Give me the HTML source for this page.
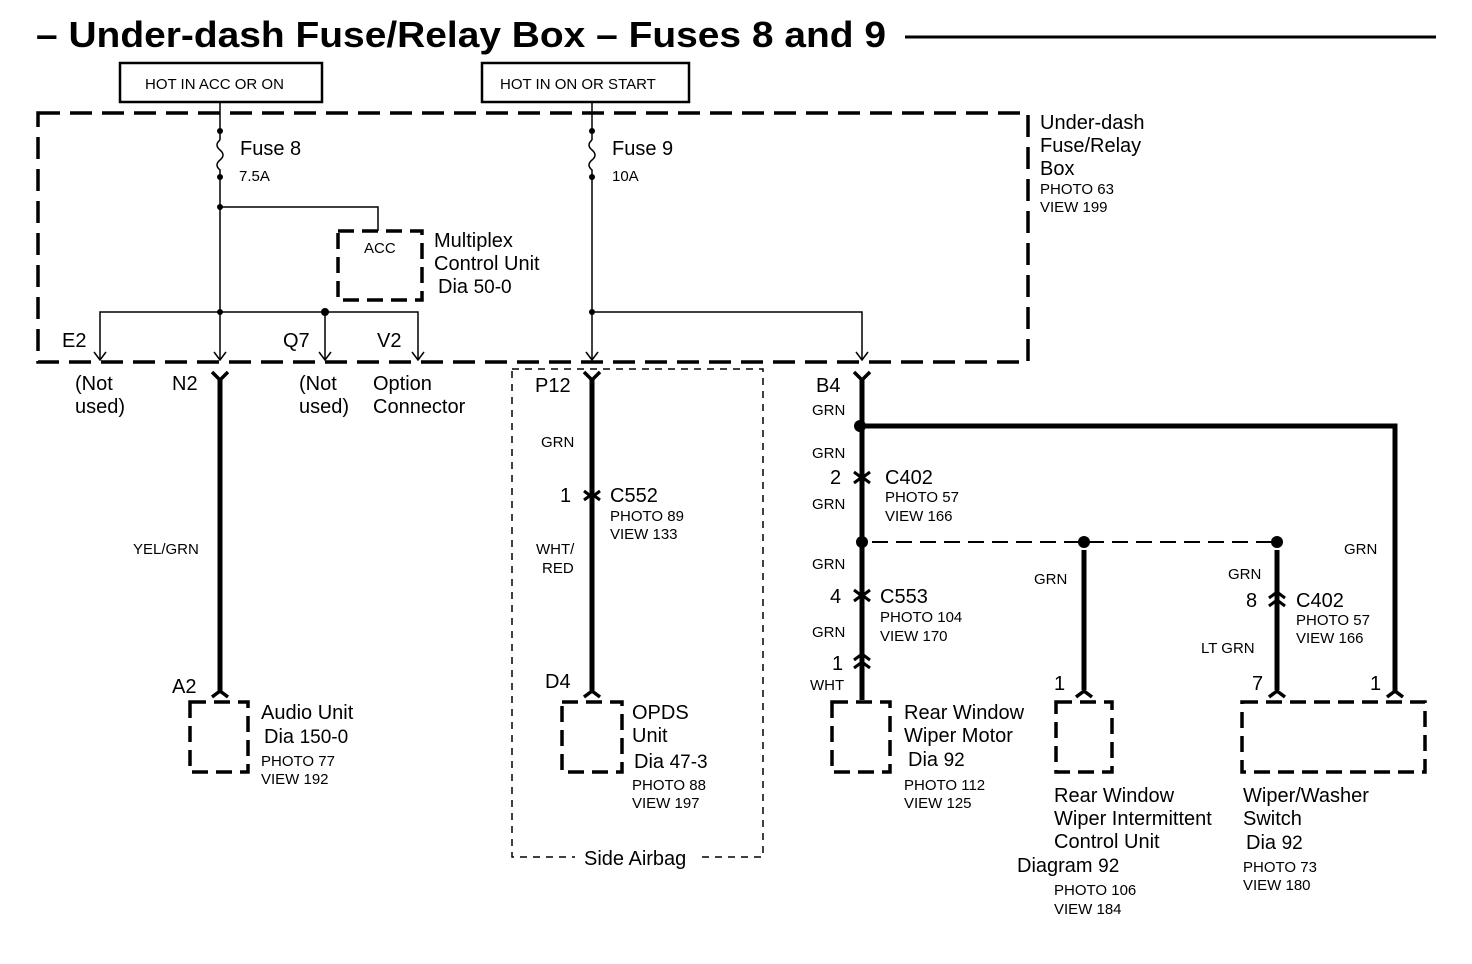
<!DOCTYPE html>
<html><head><style>body{margin:0;background:#fff}svg{display:block}text{font-family:"Liberation Sans",Arial,sans-serif;fill:#000}</style></head><body>
<svg width="1472" height="964" viewBox="0 0 1472 964" xmlns="http://www.w3.org/2000/svg">
<text x="36" y="47" font-size="36" font-weight="bold" textLength="850" lengthAdjust="spacingAndGlyphs">– Under-dash Fuse/Relay Box – Fuses 8 and 9</text>
<line x1="905" y1="37" x2="1436" y2="37" stroke="#000" stroke-width="3"/>
<g fill="none" stroke="#000">
<rect x="120" y="63" width="202" height="39" stroke-width="2.5"/>
<rect x="482" y="63" width="207" height="39" stroke-width="2.5"/>
<rect x="38" y="113" width="990" height="249" stroke-width="3.5" stroke-dasharray="22,10"/>
<rect x="338" y="231" width="84" height="69" stroke-width="3.5" stroke-dasharray="16,8"/>
<rect x="512" y="369" width="251" height="488" stroke-width="1.5" stroke-dasharray="7,6"/>
<g stroke-width="1.5">
<path d="M220 102V140M220 177V360M220 207H378V231M100 360V312H418V360M325 312V360"/>
<path d="M220 140q-6 5 0 10q6 5 0 10q-6 5 0 10v7"/>
<path d="M592 102V140M592 177V360M592 312H862V360"/>
<path d="M592 140q-6 5 0 10q6 5 0 10q-6 5 0 10v7"/>
<path d="M94 352l6 8l6-8M214 352l6 8l6-8M319 352l6 8l6-8M412 352l6 8l6-8M586 352l6 8l6-8M856 352l6 8l6-8"/>
</g>
<g stroke-width="5">
<path d="M220 378V692M592 378V692M862 378V700M862 426H1395V692M1084 550V690M1277 550V690"/>
<path d="M212 372l8 8l8-8M584 372l8 8l8-8M854 372l8 8l8-8" stroke-width="3.5"/>
<path d="M212 697l8-6l8 6M584 697l8-6l8 6M1076 697l8-6l8 6M1269 697l8-6l8 6M1387 697l8-6l8 6" stroke-width="3.5"/>
<path d="M584 491l8 6l8-6M584 500l8-6l8 6M854 472l8 6l8-6M854 483l8-6l8 6M854 590l8 6l8-6M854 601l8-6l8 6M854 660l8-6l8 6M854 668l8-6l8 6M1269 598l8-6l8 6M1269 606l8-6l8 6" stroke-width="3"/>
</g>
<path d="M872 542H1277" stroke-width="2" stroke-dasharray="16,8"/>
<g stroke-width="3.5" stroke-dasharray="16,8">
<rect x="190" y="702" width="58" height="70"/>
<rect x="562" y="702" width="60" height="70"/>
<rect x="832" y="702" width="58" height="70"/>
<rect x="1056" y="702" width="56" height="70"/>
<rect x="1242" y="702" width="183" height="70"/>
</g>
</g>
<rect x="575" y="848" width="122" height="20" fill="#fff"/>
<g fill="#000">
<circle cx="220" cy="131" r="3"/><circle cx="220" cy="177" r="3"/><circle cx="220" cy="207" r="3"/><circle cx="220" cy="312" r="3"/><circle cx="325" cy="312" r="4"/>
<circle cx="592" cy="131" r="3"/><circle cx="592" cy="177" r="3"/><circle cx="592" cy="312" r="3"/>
<circle cx="860" cy="426" r="6"/><circle cx="862" cy="542" r="6"/><circle cx="1084" cy="542" r="6"/><circle cx="1277" cy="542" r="6"/>
</g>
<g font-size="20">
<text x="240" y="155">Fuse 8</text><text x="612" y="155">Fuse 9</text>
<text x="434" y="247">Multiplex</text><text x="434" y="270">Control Unit</text><text x="438" y="293">Dia <tspan font-size="19">50-0</tspan></text>
<text x="1040" y="129">Under-dash</text><text x="1040" y="152">Fuse/Relay</text><text x="1040" y="175">Box</text>
<text x="62" y="347">E2</text><text x="283" y="347">Q7</text><text x="377" y="347">V2</text>
<text x="75" y="390">(Not</text><text x="75" y="413">used)</text><text x="299" y="390">(Not</text><text x="299" y="413">used)</text>
<text x="373" y="390">Option</text><text x="373" y="413">Connector</text>
<text x="172" y="390">N2</text><text x="535" y="392">P12</text><text x="816" y="392">B4</text>
<text x="560" y="502">1</text><text x="610" y="502">C552</text>
<text x="830" y="484">2</text><text x="885" y="484">C402</text>
<text x="830" y="603">4</text><text x="880" y="603">C553</text>
<text x="832" y="670">1</text>
<text x="1246" y="607">8</text><text x="1296" y="607">C402</text>
<text x="172" y="693">A2</text><text x="545" y="688">D4</text>
<text x="1054" y="690">1</text><text x="1252" y="690">7</text><text x="1370" y="690">1</text>
<text x="261" y="719">Audio Unit</text><text x="264" y="743">Dia <tspan font-size="19">150-0</tspan></text>
<text x="632" y="719">OPDS</text><text x="632" y="742">Unit</text><text x="634" y="768">Dia <tspan font-size="19">47-3</tspan></text>
<text x="904" y="719">Rear Window</text><text x="904" y="742">Wiper Motor</text><text x="908" y="766">Dia <tspan font-size="19">92</tspan></text>
<text x="1054" y="802">Rear Window</text><text x="1054" y="825">Wiper Intermittent</text><text x="1054" y="848">Control Unit</text><text x="1017" y="872">Diagram <tspan font-size="19">92</tspan></text>
<text x="1243" y="802">Wiper/Washer</text><text x="1243" y="825">Switch</text><text x="1246" y="849">Dia <tspan font-size="19">92</tspan></text>
<text x="584" y="865">Side Airbag</text>
</g>
<g font-size="15">
<text x="145" y="89">HOT IN ACC OR ON</text><text x="500" y="89">HOT IN ON OR START</text>
<text x="364" y="253">ACC</text>
<text x="239" y="181">7.5A</text><text x="612" y="181">10A</text>
<text x="1040" y="194">PHOTO 63</text><text x="1040" y="212">VIEW 199</text>
<text x="133" y="554">YEL/GRN</text>
<text x="541" y="447">GRN</text><text x="536" y="554">WHT/</text><text x="542" y="573">RED</text>
<text x="610" y="521">PHOTO 89</text><text x="610" y="539">VIEW 133</text>
<text x="812" y="415">GRN</text><text x="812" y="458">GRN</text><text x="812" y="509">GRN</text><text x="812" y="569">GRN</text><text x="812" y="637">GRN</text><text x="810" y="690">WHT</text>
<text x="885" y="502">PHOTO 57</text><text x="885" y="521">VIEW 166</text>
<text x="880" y="622">PHOTO 104</text><text x="880" y="641">VIEW 170</text>
<text x="1034" y="584">GRN</text><text x="1228" y="579">GRN</text><text x="1201" y="653">LT GRN</text><text x="1344" y="554">GRN</text>
<text x="1296" y="625">PHOTO 57</text><text x="1296" y="643">VIEW 166</text>
<text x="261" y="766">PHOTO 77</text><text x="261" y="784">VIEW 192</text>
<text x="632" y="790">PHOTO 88</text><text x="632" y="808">VIEW 197</text>
<text x="904" y="790">PHOTO 112</text><text x="904" y="808">VIEW 125</text>
<text x="1054" y="895">PHOTO 106</text><text x="1054" y="914">VIEW 184</text>
<text x="1243" y="872">PHOTO 73</text><text x="1243" y="890">VIEW 180</text>
</g>
</svg>
</body></html>
